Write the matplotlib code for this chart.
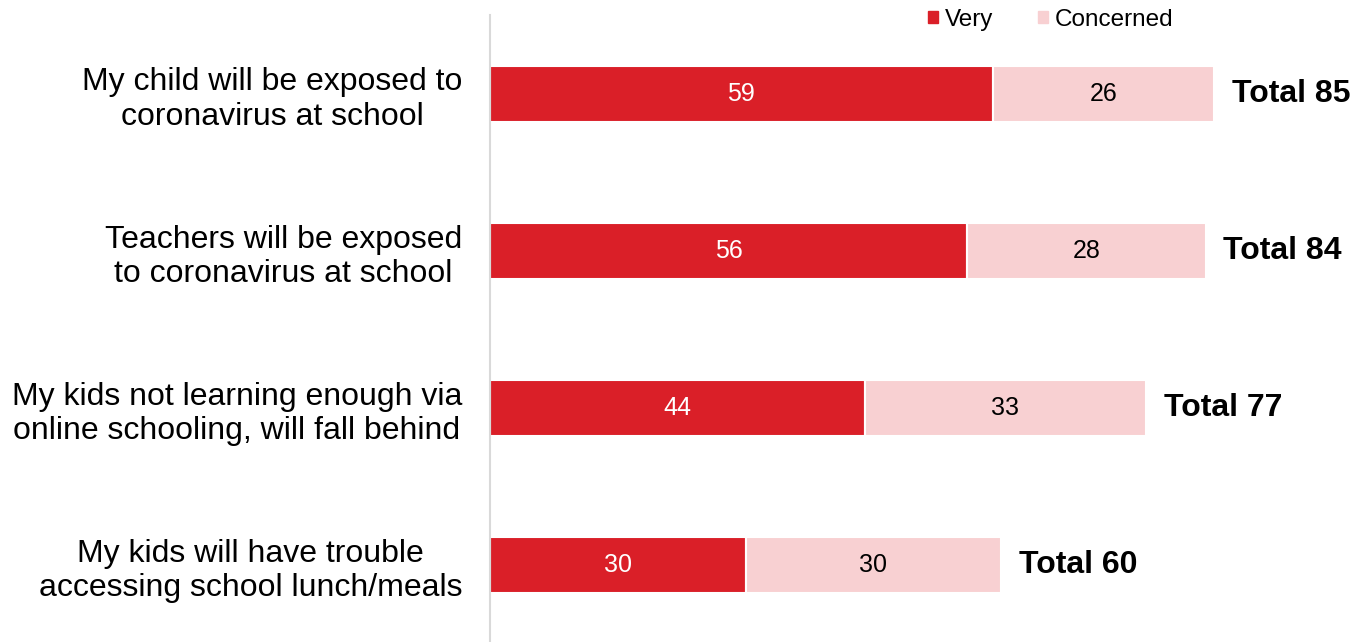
import matplotlib.pyplot as plt
from matplotlib.patches import Patch

plt.rcParams['font.family'] = ['Liberation Sans', 'DejaVu Sans']

categories = [
    "My child will be exposed to\ncoronavirus at school",
    "Teachers will be exposed\nto coronavirus at school",
    "My kids not learning enough via\nonline schooling, will fall behind",
    "My kids will have trouble\naccessing school lunch/meals",
]
very = [59, 56, 44, 30]
concerned = [26, 28, 33, 30]
totals = [85, 84, 77, 60]

RED = '#DA1F28'
PINK = '#F8D0D2'

fig = plt.figure(figsize=(13.64, 6.42), dpi=100)
ax = fig.add_axes([490/1364, 0, 1 - 490/1364, 1 - 15/642])

y = list(range(len(categories)))
ax.barh(y, very, height=0.355, color=RED, edgecolor='white', linewidth=1.5)
ax.barh(y, concerned, left=very, height=0.355, color=PINK, edgecolor='white', linewidth=1.5)

for i in y:
    ax.text(very[i] / 2, i, str(very[i]), ha='center', va='center', color='white', fontsize=18)
    ax.text(very[i] + concerned[i] / 2, i, str(concerned[i]), ha='center', va='center',
            color='black', fontsize=18)
    ax.text(totals[i] + 2.1, i, f"Total {totals[i]}", ha='left', va='center',
            fontsize=23, fontweight='bold')

ax.set_xlim(0, 102.6)
ax.set_ylim(3.49, -0.503)
ax.set_yticks(y)
ax.set_yticklabels(categories, fontsize=23, ha='right', multialignment='center',
                   linespacing=1.2)
ax.tick_params(axis='y', length=0, pad=20)
ax.set_xticks([])
for s in ['top', 'right', 'bottom']:
    ax.spines[s].set_visible(False)
ax.spines['left'].set_color('#D9D9D9')
ax.spines['left'].set_linewidth(1.5)

handles = [Patch(color=RED, label='Very'), Patch(color=PINK, label='Concerned')]
fig.legend(handles=handles, loc='upper left', bbox_to_anchor=(906/1364, 1.02), ncol=2,
           frameon=False, fontsize=17.5, handlelength=0.4, handleheight=0.4,
           handletextpad=0.3, columnspacing=1.85)

fig.savefig('out.png', dpi=100)
